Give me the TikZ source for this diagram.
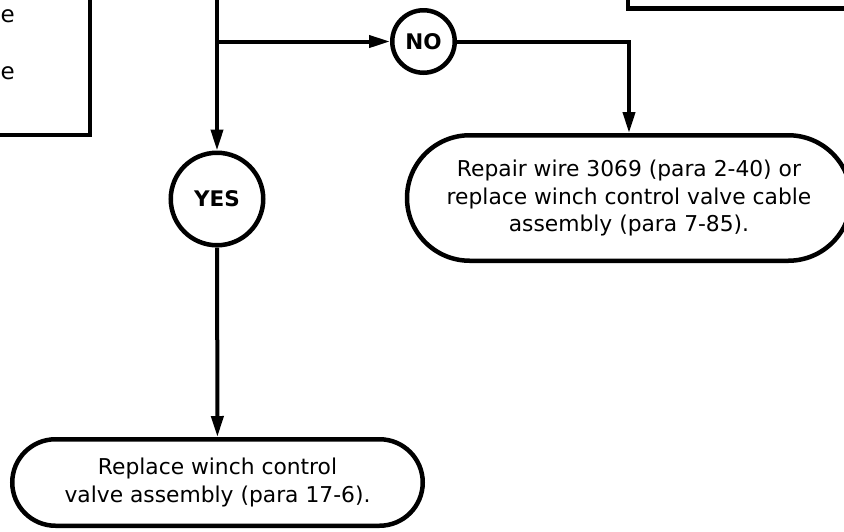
\documentclass[tikz,border=0pt]{standalone}
\usepackage{fontspec}
\setmainfont{DejaVu Sans}
\usetikzlibrary{arrows.meta, positioning}

\tikzset{
  panel/.style={draw, line width=4.5pt, rectangle},
  flowbox/.style={draw, line width=4.5pt, rectangle, align=center,
                  font=\fontsize{21.8}{27.5}\selectfont},
  answer/.style={draw, circle, line width=4.5pt, inner sep=0pt,
                 font=\fontsize{21.5}{24}\selectfont\bfseries},
  link/.style={line width=4pt, -{Triangle[length=21pt,width=12pt]}},
}

\begin{document}
\begin{tikzpicture}[x=1pt, y=-1pt]
  \useasboundingbox (0,0) rectangle (844,531);
  \clip (0,0) rectangle (844,531);

  % boxes running off the page
  \node[panel, minimum width=290pt, minimum height=240pt] (prevbox) at (-55,15) {};
  \node[panel, minimum width=300pt, minimum height=120pt] (nextbox) at (778,-51.5) {};
  \node[anchor=base west, inner sep=0pt, font=\fontsize{23}{28}\selectfont] (tailA) at (0.5,22.5) {e};
  \node[anchor=base west, inner sep=0pt, font=\fontsize{23}{28}\selectfont] (tailB) at (0.5,79.5) {e};

  % answers
  \node[answer, minimum size=92.5pt] (yes) at (217,199) {YES};
  \node[answer, minimum size=62.5pt] (no) at (423.5,41.5) {NO};

  % actions
  \node[flowbox, minimum width=444pt, minimum height=125.5pt, rounded corners=62.75pt] (repair) at (629,198)
    {Repair wire 3069 (para 2-40) or\\replace winch control valve cable\\assembly (para 7-85).};
  \node[flowbox, minimum width=410.5pt, minimum height=86.5pt, rounded corners=43.25pt] (replace) at (217.5,482.5)
    {Replace winch control\\valve assembly (para 17-6).};

  \coordinate (top) at (217,-10);
  \coordinate (split) at (217,41.5);

  \draw[link] (top) -- (yes);
  \draw[link] (split) -- (no);
  \draw[link] (no) -| (repair);
  \draw[link] (yes) -- (replace);
\end{tikzpicture}
\end{document}
